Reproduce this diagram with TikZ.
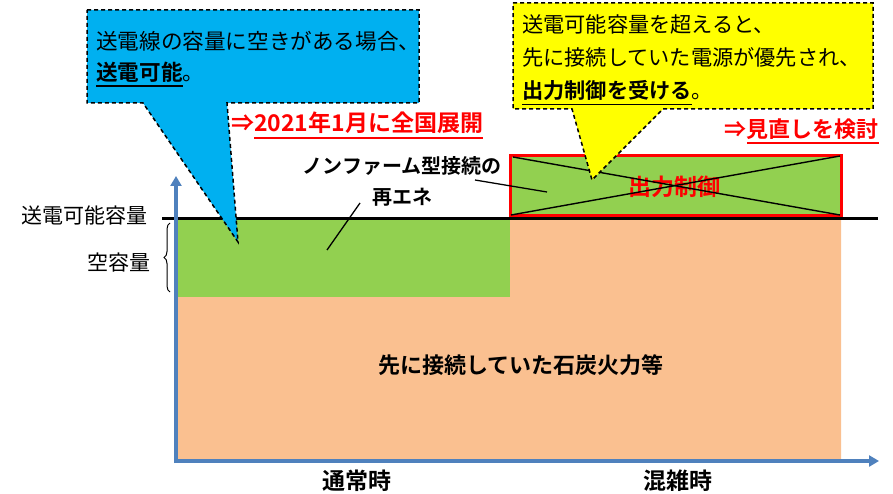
\documentclass[tikz,border=0pt]{standalone}
\usepackage{fontspec}
\setmainfont{Noto Sans CJK JP}[BoldFont={Noto Sans CJK JP Bold}]
\usetikzlibrary{arrows.meta,decorations.pathreplacing}
\definecolor{calloutblue}{HTML}{00B0F0}
\definecolor{calloutyellow}{HTML}{FFFF00}
\definecolor{regreen}{HTML}{92D050}
\definecolor{coalorange}{HTML}{FAC090}
\definecolor{axisblue}{HTML}{4F81BD}
\definecolor{alertred}{HTML}{FF0000}
\newcommand\myul[1]{\setbox0=\hbox{#1}\rlap{\rule[-0.3em]{\wd0}{0.08em}}\box0}
\newcommand\fs[1]{\fontsize{#1}{#1}\selectfont}
\begin{document}
\begin{tikzpicture}[x=1pt,y=-1pt,
  txt/.style={inner sep=0pt,anchor=base},
  callout/.style={draw=black,line width=1.5pt,dash pattern=on 4pt off 3pt,line join=miter},
  axis/.style={draw=axisblue,line width=3.5pt,-{Triangle[length=10pt,width=11pt]}},
  leader/.style={draw=black,line width=1.3pt}]
\useasboundingbox (0,0) rectangle (893,494);
% areas
\fill[coalorange] (178,297) -- (510,297) -- (510,218) -- (841,218) -- (841,459) -- (178,459) -- cycle;
\fill[regreen] (178,218) rectangle (510,297);
% curtailed box
\draw[draw=alertred,line width=3pt,fill=regreen] (510,156) rectangle (841,216);
\node[txt,font=\fs{23}\bfseries,text=alertred] (curt) at (674,195.7) {出力制御};
\draw[line width=1.4pt] (513,157) -- (840,215);
\draw[line width=1.4pt] (511,215) -- (840,156);
% capacity line
\draw[line width=3pt] (162,219) -- (878,219);
% axes
\draw[axis] (176,463) -- (176,176);
\draw[axis] (174,461) -- (879,461);
% brace
\draw[line width=1pt,decorate,decoration={brace,amplitude=6pt}] (170,292) -- (170,223);
% labels
\node[txt,font=\fs{21}] (cap) at (84,223) {送電可能容量};
\node[txt,font=\fs{21}] (free) at (119,270) {空容量};
\node[txt,font=\fs{22}\bfseries] (coal) at (521,373.4) {先に接続していた石炭火力等};
\node[txt,font=\fs{23}\bfseries] (normal) at (357,489.7) {通常時};
\node[txt,font=\fs{23}\bfseries] (busy) at (678,489.7) {混雑時};
\node[txt,font=\fs{20}\bfseries] (nf1) at (402,173.6) {ノンファーム型接続の};
\node[txt,font=\fs{20}\bfseries] (nf2) at (402,204.6) {再エネ};
\coordinate (l1a) at (360,203);
\coordinate (l1b) at (327,250);
\coordinate (l2a) at (475,180);
\coordinate (l2b) at (547,192);
\draw[leader] (l1a) -- (l1b);
\draw[leader] (l2a) -- (l2b);
\node[txt,anchor=base west,font=\fs{23}\bfseries,text=alertred] (rollout) at (231,131.8) {⇒\myul{2021年1月に全国展開}};
\node[txt,anchor=base east,font=\fs{22}\bfseries,text=alertred] (review) at (879,137.4) {⇒\myul{見直しを検討}};
% callouts
\path[callout,fill=calloutblue] (87,10) -- (419,10) -- (419,103) -- (227,103) -- (238,242) -- (143,103) -- (87,103) -- cycle;
\node[txt,anchor=base west,font=\fs{21.6}] (b1) at (96,49.7) {送電線の容量に空きがある場合、};
\node[txt,anchor=base west,font=\fs{21.6}] (b2) at (96,80.2) {\textbf{\myul{送電可能}}。};
\path[callout,fill=calloutyellow] (513,3) -- (873,3) -- (873,109) -- (663,109) -- (592,180) -- (572,109) -- (513,109) -- cycle;
\node[txt,anchor=base west,font=\fs{21.2}] (y1) at (522,33) {送電可能容量を超えると、};
\node[txt,anchor=base west,font=\fs{21.2}] (y2) at (522,66) {先に接続していた電源が優先され、};
\node[txt,anchor=base west,font=\fs{21.2}] (y3) at (522,99) {\textbf{\myul{出力制御を受ける}}。};
\end{tikzpicture}
\end{document}
